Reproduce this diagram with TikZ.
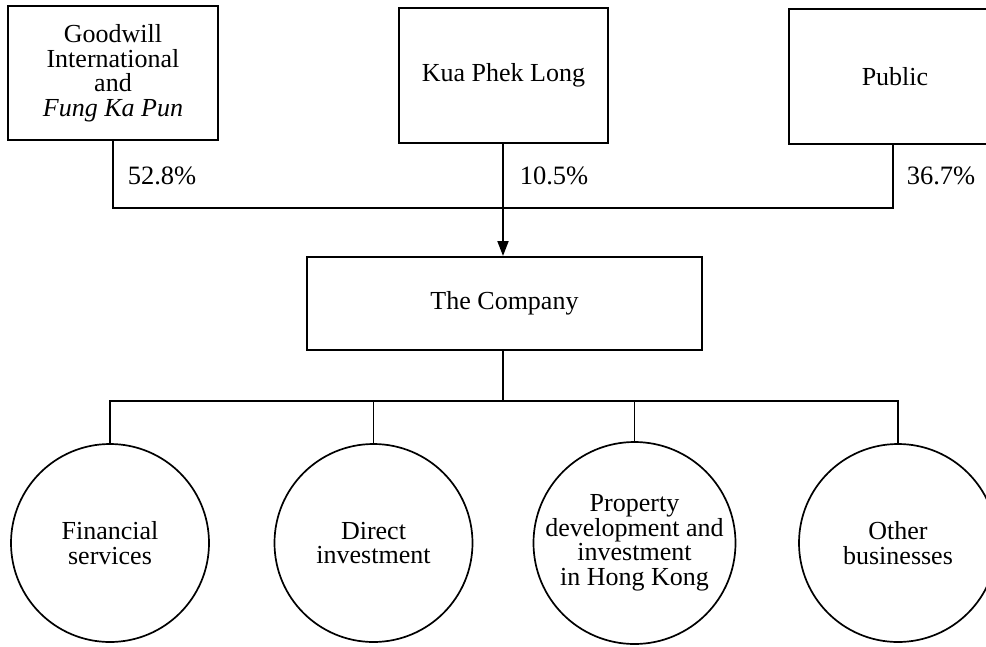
\documentclass[tikz,border=0pt]{standalone}
\usepackage{fontspec}
\setmainfont{Liberation Serif}
\usetikzlibrary{arrows.meta}
\begin{document}
\begin{tikzpicture}[x=1pt,y=-1pt,
  txt/.style={font=\fontsize{26}{24.5}\selectfont, align=center, inner sep=0pt},
  box/.style={txt, draw, line width=2pt, rectangle},
  unit/.style={txt, draw, line width=1.7pt, circle, minimum size=198pt},
  pct/.style={font=\fontsize{26.5}{26}\selectfont, inner sep=0pt},
  link/.style={line width=1.9pt},
  thin/.style={line width=1.6pt},
  arr/.style={link, -{Triangle[length=15pt,width=11pt]}}]
\useasboundingbox (0,0) rectangle (986,646);
\clip (0,0) rectangle (986,646);
% owners
\node[box, minimum width=210pt, minimum height=134pt] (g) at (113,73)
  {Goodwill\\International\\and\\\textit{Fung Ka Pun}};
\node[box, minimum width=209pt, minimum height=135pt] (k) at (503.5,75.5) {Kua Phek Long};
\node[box, minimum width=212pt, minimum height=135pt] (p) at (895,76.5) {Public};
% company
\node[box, minimum width=395pt, minimum height=93pt] (c) at (504.5,303.5) {The Company};
% businesses
\node[unit] (f1) at (110,543) {Financial\\services};
\node[unit] (f2) at (373.5,543) {Direct\\investment};
\node[unit] (f3) at (634.5,543) {Property\\development and\\investment\\in Hong Kong};
\node[unit] (f4) at (898,543) {Other\\businesses};
% percentages
\node[pct] (l1) at (162,176) {52.8\%};
\node[pct] (l2) at (554,176) {10.5\%};
\node[pct] (l3) at (941,176) {36.7\%};
% ownership connectors
\coordinate (j) at (503,208);
\draw[link] (g.south) |- (j);
\draw[link] (p.south -| 893,0) |- (j);
\draw[arr] (k.south -| j) -- (j |- c.north);
% company to businesses
\coordinate (b) at (503,401);
\draw[link] (c.south -| b) -- (b);
\draw[thin] (f1.north) |- (b);
\draw[thin] (f4.north) |- (b);
\draw[thin] (f2.north) -- (f2.north |- b);
\draw[thin] (f3.north) -- (f3.north |- b);
\end{tikzpicture}
\end{document}
